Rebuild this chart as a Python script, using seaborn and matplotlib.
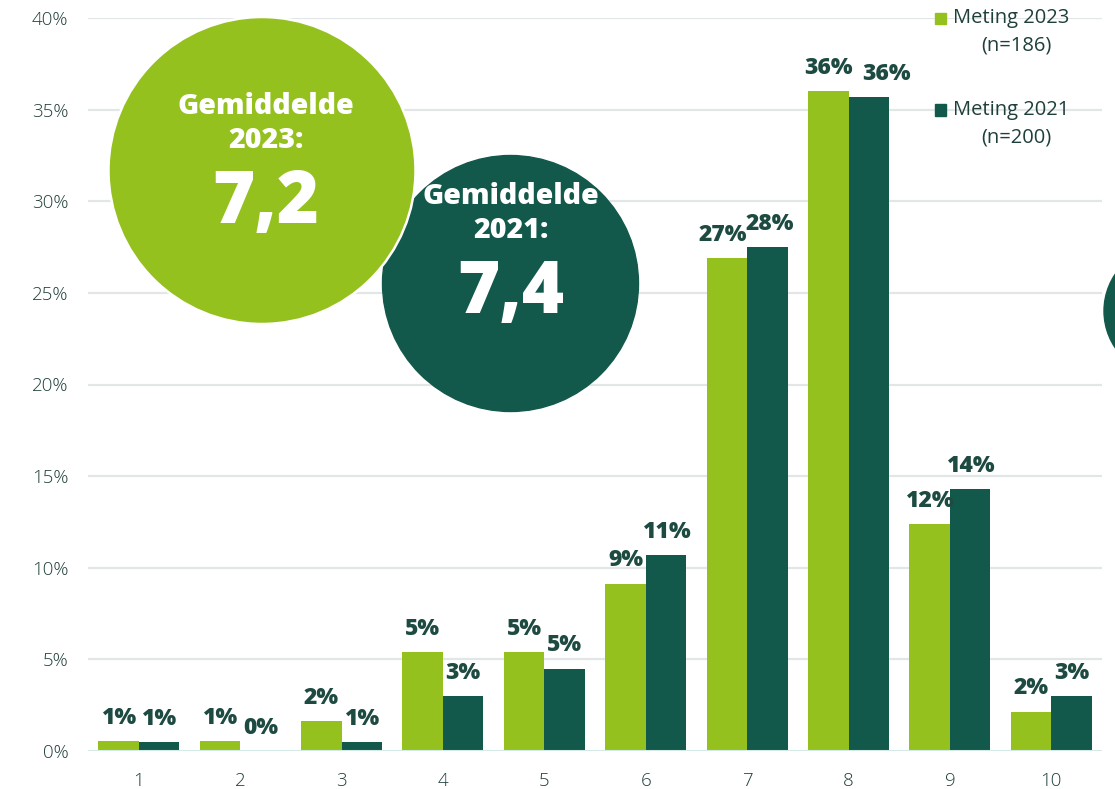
import numpy as np
import pandas as pd
import seaborn as sns
import matplotlib.pyplot as plt
from matplotlib.patches import Circle, Rectangle

# scores 1..10, share of respondents (%)
scores = [str(i) for i in range(1, 11)]
pct_2023 = [0.54, 0.54, 1.61, 5.38, 5.38, 9.14, 26.88, 36.02, 12.37, 2.15]
pct_2021 = [0.5, 0.0, 0.5, 3.0, 4.5, 10.7, 27.5, 35.7, 14.3, 3.0]
series = ["Meting 2023", "Meting 2021"]
n_resp = ["(n=186)", "(n=200)"]
mean_2023 = 7.2
mean_2021 = 7.4
yticks = [0, 5, 10, 15, 20, 25, 30, 35, 40]

light = "#95c11f"
dark = "#12594b"
txt = "#1d4a41"
grey_txt = "#1f3f3b"

df = pd.DataFrame({
    "score": scores * 2,
    "pct": pct_2023 + pct_2021,
    "meting": [series[0]] * 10 + [series[1]] * 10,
})

sns.set_theme(style="white")
plt.rcParams["font.family"] = ["Open Sans", "DejaVu Sans"]

fig = plt.figure(figsize=(11.15, 7.89), dpi=100)
ax = fig.add_axes([88 / 1115, 1 - 751 / 789, (1102 - 88) / 1115, (751 - 18) / 789])

sns.barplot(data=df, x="score", y="pct", hue="meting", order=scores,
            hue_order=series, palette=[light, dark], width=0.8,
            saturation=1, legend=False, ax=ax, zorder=3,
            edgecolor="none", linewidth=0)

ax.set_ylim(0, 40)
ax.set_xlim(-0.5, 9.5)
ax.set_yticks(yticks)
ax.set_yticklabels([f"{t}%" for t in yticks])
for t in yticks[1:]:
    ax.axhline(t, color="#e3e6e6", lw=1.6, zorder=1)
ax.axhline(0, color="#d3eae7", lw=2.2, zorder=4)
sns.despine(ax=ax, left=True, bottom=True)
ax.set_xlabel("")
ax.set_ylabel("")
ax.tick_params(axis="y", length=0, pad=14, labelsize=13.5, labelcolor=grey_txt)
ax.tick_params(axis="x", length=0, pad=15, labelsize=13.5, labelcolor=grey_txt)
for lab in ax.get_xticklabels() + ax.get_yticklabels():
    lab.set_fontweight("light")

# value labels; a few are nudged sideways to clear their neighbour
nudge = {(0, 6): -3, (1, 6): 2, (1, 7): 13}
for s, cont in enumerate(ax.containers):
    for i, bar in enumerate(cont):
        v = bar.get_height()
        ax.annotate(f"{int(np.floor(v + 0.5))}%",
                    (bar.get_x() + bar.get_width() / 2, v),
                    xytext=(nudge.get((s, i), 0), 8), textcoords="offset points",
                    ha="center", va="bottom", fontsize=16.5,
                    fontweight="heavy", color=txt, zorder=6)

# mean circles (pixel positions / 100 -> inches)
tr = fig.dpi_scale_trans
H = 7.89
fig.add_artist(Circle((11.70, H - 3.11), 0.66, transform=tr, color=dark, zorder=5))
fig.add_artist(Circle((5.105, H - 2.835), 1.28, transform=tr, color=dark, zorder=5))
fig.add_artist(Circle((2.62, H - 1.705), 1.535, transform=tr, facecolor=light,
                      edgecolor="white", lw=1.8, zorder=6))

def circle_text(x, y, s, size):
    fig.text(x / 1115, 1 - y / 789, s, ha="center", va="center", color="white",
             fontsize=size, fontweight="heavy", zorder=7)

circle_text(266, 106, "Gemiddelde", 20.5)
circle_text(266, 140, "2023:", 20.5)
circle_text(266, 204, f"{mean_2023:.1f}".replace(".", ","), 52)
circle_text(511, 197, "Gemiddelde", 20.5)
circle_text(511, 231, "2021:", 20.5)
circle_text(511, 294, f"{mean_2021:.1f}".replace(".", ","), 52)

# legend
for i, (name, n, col) in enumerate(zip(series, n_resp, [light, dark])):
    y0 = 18 + i * 92
    fig.add_artist(Rectangle((9.35, H - (y0 + 5.5) / 100), 0.11, 0.11,
                             transform=tr, color=col, zorder=7))
    fig.text(953 / 1115, 1 - y0 / 789, name, ha="left", va="center",
             fontsize=14.5, color=grey_txt, zorder=7)
    fig.text(1016 / 1115, 1 - (y0 + 27) / 789, n, ha="center", va="center",
             fontsize=14.5, color=grey_txt, zorder=7)

fig.savefig("out.png", dpi=100)
